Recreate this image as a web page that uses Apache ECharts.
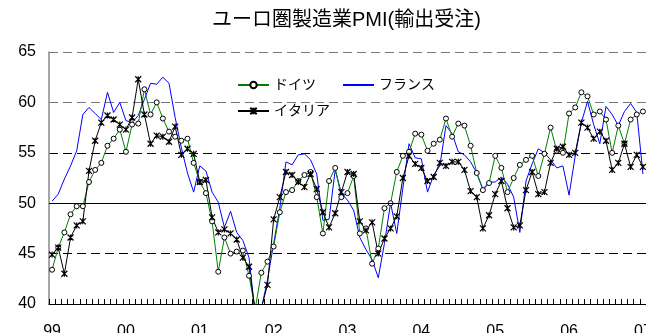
<!DOCTYPE html>
<html>
<head>
<meta charset="utf-8">
<script src="https://cdn.jsdelivr.net/npm/echarts@6/dist/echarts.min.js"></script>
<style>
  html, body { margin: 0; padding: 0; background: #fff; }
  #chart { width: 646px; height: 333px; }
</style>
</head>
<body>
<div id="chart"></div>
<script>
// 年ラベル（1999年1月〜2007年1月の月次）
const yearLabels = ['99', '00', '01', '02', '03', '04', '05', '06', '07']
const monthCount = 97

const categories = []
for (let i = 0; i < monthCount; i++) {
  categories.push(yearLabels[Math.floor(i / 12)] + '/' + ((i % 12) + 1))
}

// ドイツ
const germany = [
  43.4, 45.6, 47.1, 48.9, 49.7, 49.7, 52.1, 53.3, 54.0, 55.7,
  56.4, 57.3, 55.1, 57.8, 57.9, 61.3, 58.8, 60.0, 58.4, 57.1,
  56.6, 56.2, 56.4, 54.0, 52.1, 51.0, 48.2, 43.2, 46.6, 45.0,
  45.2, 45.3, 42.8, 39.5, 43.1, 44.2, 45.7, 49.1, 51.1, 51.3,
  52.2, 52.8, 53.1, 50.6, 47.0, 52.2, 53.5, 50.6, 51.0, 52.7,
  47.0, 47.5, 44.0, 45.5, 49.5, 50.0, 53.1, 54.7, 55.1, 56.9,
  56.8, 55.2, 55.9, 56.3, 58.4, 56.6, 57.9, 57.7, 55.7, 53.0,
  51.3, 52.0, 54.7, 53.5, 51.1, 52.5, 53.8, 54.3, 54.7, 52.7,
  54.9, 57.5, 55.2, 55.0, 58.9, 59.5, 61.0, 60.6, 58.8, 59.1,
  58.3, 55.0, 57.7, 55.9, 58.3, 58.8, 59.1
]

// フランス
const france = [
  50.2, 50.9, 52.4, 53.7, 55.2, 58.8, 59.5, 58.9, 58.3, 61.0,
  59.0, 60.0, 58.2, 58.0, 58.7, 60.3, 61.9, 61.8, 62.5, 61.9,
  58.5, 55.5, 53.0, 51.1, 53.7, 53.2, 51.1, 50.1, 47.6, 49.2,
  47.1, 46.3, 44.6, 39.0, 39.5, 42.4, 46.0, 49.5, 54.1, 53.8,
  54.8, 54.9, 54.3, 52.9, 48.3, 48.4, 53.3, 51.0, 50.3, 49.3,
  46.6, 45.4, 44.4, 42.6, 46.0, 50.0, 47.0, 51.5, 55.9, 54.5,
  54.4, 51.1, 52.8, 53.7, 57.7, 56.9, 55.1, 54.8, 54.1, 53.0,
  51.4, 52.1, 52.1, 52.6, 51.9, 50.6, 47.1, 52.2, 53.9, 55.4,
  55.0, 54.3, 53.5, 53.7, 50.8, 54.7, 58.0, 60.1, 57.8, 55.9,
  59.6, 58.8, 57.7, 59.1, 59.9, 59.0, 52.9
]

// イタリア
const italy = [
  44.9, 45.6, 43.0, 46.6, 47.8, 48.2, 53.2, 56.2, 58.0, 58.7,
  58.3, 57.8, 57.3, 58.5, 62.3, 58.8, 55.9, 56.7, 56.6, 56.1,
  57.6, 54.8, 55.4, 54.9, 52.1, 52.3, 48.6, 47.1, 47.4, 47.0,
  46.4, 44.6, 43.7, 39.3, 39.6, 41.9, 48.4, 50.6, 53.1, 52.8,
  52.1, 51.6, 52.9, 51.4, 49.1, 47.6, 49.0, 51.1, 53.1, 52.9,
  48.2, 47.3, 48.1, 45.0, 46.5, 47.5, 48.7, 52.5, 54.7, 53.9,
  53.5, 52.2, 52.6, 54.0, 53.7, 54.1, 54.1, 53.3, 51.2, 50.6,
  47.5, 48.8, 50.9, 52.2, 49.5, 47.6, 47.8, 51.3, 53.1, 50.9,
  51.1, 54.0, 55.4, 55.6, 54.8, 55.0, 58.0, 57.5, 56.4, 57.1,
  56.2, 53.3, 54.0, 55.9, 53.6, 54.8, 53.6
]

const font = "'Liberation Sans', 'Noto Sans CJK JP', sans-serif"
const starPath = 'path://M0,0L10,10M10,0L0,10M5,0L5,10'

const myChart = echarts.init(document.getElementById('chart'))

const legendText = { color: '#000', fontFamily: font, fontSize: 14 }

const option = {
  animation: false,
  title: {
    text: 'ユーロ圏製造業PMI(輸出受注)',
    left: 207,
    top: 5,
    textStyle: {
      color: '#000',
      fontFamily: font,
      fontSize: 20,
      fontWeight: 'normal'
    }
  },
  legend: [
    {
      left: 237,
      top: 78,
      padding: 0,
      itemWidth: 31,
      itemHeight: 8,
      itemGap: 26,
      textStyle: legendText,
      data: [
        'ドイツ',
        { name: 'フランス', itemStyle: { opacity: 0 } }
      ]
    },
    {
      left: 237,
      top: 104,
      padding: 0,
      itemWidth: 31,
      itemHeight: 8,
      textStyle: legendText,
      data: ['イタリア']
    }
  ],
  grid: {
    left: 49,
    right: 0,
    top: 52,
    bottom: 29,
    outerBoundsMode: 'none'
  },
  xAxis: {
    type: 'category',
    data: categories,
    boundaryGap: true,
    axisLine: {
      show: true,
      lineStyle: { color: '#000', width: 1 }
    },
    axisTick: {
      show: true,
      inside: true,
      interval: 0,
      length: 5,
      lineStyle: { color: '#000' }
    },
    axisLabel: {
      interval: 11,
      margin: 20,
      color: '#000',
      fontFamily: font,
      fontSize: 16,
      formatter: (value) => value.split('/')[0]
    },
    splitLine: { show: false }
  },
  yAxis: {
    type: 'value',
    min: 40,
    max: 65,
    interval: 5,
    axisLine: {
      show: true,
      lineStyle: { color: '#888', width: 1.5 }
    },
    axisTick: { show: false },
    axisLabel: {
      margin: 13,
      color: '#000',
      fontFamily: font,
      fontSize: 16
    },
    splitLine: {
      show: true,
      lineStyle: {
        color: ['#000', '#000', '#000', '#000', '#777', '#777'],
        width: 1.2,
        type: [9, 5]
      }
    }
  },
  series: [
    {
      name: 'フランス',
      type: 'line',
      data: france,
      symbol: 'none',
      lineStyle: { color: '#0000ff', width: 1 },
      itemStyle: { color: '#0000ff' }
    },
    {
      name: 'ドイツ',
      type: 'line',
      data: germany,
      symbol: 'circle',
      symbolSize: 5,
      showSymbol: true,
      showAllSymbol: true,
      lineStyle: { color: '#008000', width: 1 },
      itemStyle: { color: '#fff', borderColor: '#000', borderWidth: 1 }
    },
    {
      name: 'イタリア',
      type: 'line',
      data: italy,
      symbol: starPath,
      symbolSize: 6,
      showSymbol: true,
      showAllSymbol: true,
      lineStyle: { color: '#000', width: 1 },
      itemStyle: { color: '#000', borderColor: '#000', borderWidth: 1.2 },
      markLine: {
        silent: true,
        symbol: 'none',
        label: { show: false },
        lineStyle: { color: '#000', width: 1, type: 'solid' },
        data: [{ yAxis: 50 }]
      }
    }
  ]
}

myChart.setOption(option)
</script>
</body>
</html>
